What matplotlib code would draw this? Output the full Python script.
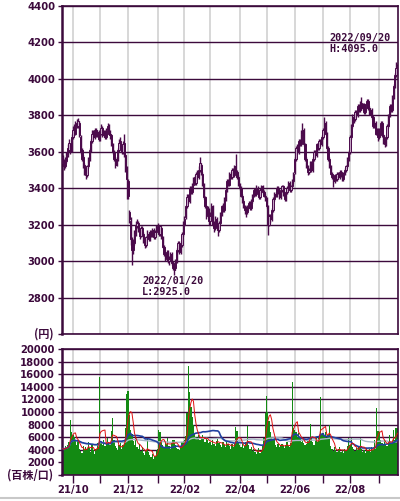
import numpy as np
import pandas as pd
import matplotlib
matplotlib.use('Agg')
import matplotlib.pyplot as plt
from matplotlib.lines import Line2D

dpi = 100
ink = '#3c0a3c'
candle_dn = '#4b0a4b'
candle_up = '#c4a4c4'

# daily OHLC (yen) by month, 2021/09/21 .. 2022/09/21
opens = [
    3570, 3550, 3520, 3550, 3580, 3610, 3640, 3610,
    3680, 3730, 3700, 3760, 3740, 3760, 3680, 3610, 3570, 3530, 3500, 3470, 3520, 3560, 3610, 3660, 3710, 3680, 3720, 3690, 3710,
    3670, 3700, 3730, 3690, 3710, 3680, 3720, 3740, 3700, 3690, 3640, 3600, 3560, 3530, 3560, 3610, 3660, 3630, 3600, 3650, 3580, 3510,
    3440, 3270, 3220, 3110, 3060, 3100, 3150, 3190, 3210, 3170, 3140, 3180, 3150, 3110, 3090, 3130, 3150, 3120, 3160, 3140, 3170, 3130, 3160,
    3190, 3180, 3150, 3180, 3130, 3080, 3040, 3010, 3050, 3000, 3010, 3040, 2990, 2970, 2960, 3000, 3060, 3100, 3050, 3090, 3150,
    3200, 3240, 3300, 3360, 3330, 3400, 3380, 3420, 3460, 3430, 3490, 3460, 3500, 3530, 3480, 3420, 3350, 3300, 3250, 3280,
    3220, 3250, 3300, 3200, 3180, 3230, 3190, 3170, 3210, 3260, 3300, 3280, 3340, 3390, 3440, 3420, 3480, 3460, 3500, 3470, 3520, 3490, 3460,
    3420, 3400, 3360, 3330, 3300, 3290, 3270, 3300, 3320, 3290, 3330, 3360, 3390, 3370, 3400, 3380, 3350, 3390, 3410, 3380, 3360,
    3340, 3300, 3200, 3250, 3230, 3280, 3340, 3370, 3360, 3400, 3380, 3350, 3390, 3410, 3370, 3340, 3380, 3400, 3430, 3390, 3410, 3440,
    3490, 3560, 3620, 3600, 3660, 3640, 3700, 3720, 3640, 3560, 3520, 3490, 3500, 3540, 3500, 3560, 3600, 3580, 3640, 3620, 3660, 3640,
    3680, 3720, 3760, 3700, 3620, 3560, 3520, 3480, 3460, 3440, 3470, 3450, 3480, 3460, 3490, 3470, 3450, 3480, 3500, 3520, 3560,
    3600, 3680, 3740, 3790, 3780, 3820, 3800, 3850, 3830, 3870, 3840, 3860, 3820, 3850, 3880, 3840, 3810, 3830, 3790, 3740, 3760, 3700, 3720,
    3680, 3720, 3760, 3690, 3660, 3640, 3680, 3740, 3800, 3850, 3830, 3900, 3960, 4020, 4070,
]
closes = [
    3540, 3520, 3560, 3580, 3620, 3650, 3600, 3680,
    3720, 3700, 3750, 3740, 3770, 3690, 3600, 3560, 3520, 3490, 3470, 3520, 3560, 3610, 3660, 3700, 3680, 3720, 3690, 3710, 3670,
    3700, 3730, 3690, 3710, 3680, 3720, 3740, 3700, 3690, 3640, 3600, 3560, 3530, 3560, 3610, 3650, 3630, 3600, 3640, 3580, 3500, 3450,
    3360, 3230, 3120, 3060, 3100, 3150, 3200, 3210, 3170, 3140, 3180, 3150, 3110, 3090, 3130, 3150, 3120, 3160, 3140, 3170, 3130, 3160, 3180,
    3180, 3150, 3190, 3130, 3080, 3040, 3020, 3050, 3000, 3010, 3040, 2990, 2960, 2950, 3000, 3060, 3100, 3050, 3090, 3150, 3200,
    3230, 3300, 3350, 3330, 3400, 3380, 3420, 3450, 3430, 3480, 3460, 3500, 3540, 3480, 3420, 3350, 3300, 3260, 3280, 3220,
    3250, 3300, 3200, 3180, 3230, 3190, 3170, 3210, 3260, 3300, 3280, 3340, 3390, 3440, 3420, 3480, 3460, 3500, 3470, 3520, 3490, 3460, 3420,
    3400, 3360, 3330, 3300, 3280, 3270, 3300, 3320, 3290, 3330, 3360, 3390, 3370, 3400, 3380, 3350, 3390, 3410, 3380, 3360, 3340,
    3300, 3200, 3250, 3230, 3280, 3340, 3370, 3360, 3400, 3380, 3350, 3390, 3410, 3370, 3340, 3380, 3400, 3430, 3390, 3410, 3440, 3480,
    3560, 3620, 3600, 3660, 3640, 3700, 3720, 3640, 3560, 3520, 3490, 3500, 3540, 3500, 3560, 3600, 3580, 3640, 3620, 3660, 3640, 3680,
    3720, 3760, 3700, 3620, 3560, 3520, 3480, 3460, 3440, 3470, 3450, 3480, 3460, 3490, 3470, 3450, 3480, 3500, 3520, 3560, 3600,
    3680, 3740, 3790, 3780, 3820, 3800, 3850, 3830, 3870, 3840, 3860, 3820, 3850, 3880, 3840, 3810, 3830, 3790, 3740, 3760, 3700, 3720, 3680,
    3720, 3760, 3690, 3660, 3640, 3680, 3740, 3800, 3850, 3830, 3900, 3960, 4020, 4060, 4040,
]
highs = [
    3580, 3560, 3570, 3600, 3640, 3670, 3650, 3700,
    3740, 3750, 3770, 3780, 3785, 3770, 3690, 3620, 3580, 3540, 3510, 3530, 3570, 3620, 3670, 3720, 3720, 3730, 3730, 3720, 3720,
    3710, 3750, 3740, 3720, 3720, 3730, 3760, 3750, 3720, 3700, 3650, 3610, 3570, 3570, 3620, 3670, 3680, 3640, 3660, 3700, 3590, 3520,
    3450, 3280, 3240, 3130, 3120, 3170, 3220, 3230, 3220, 3180, 3190, 3190, 3160, 3120, 3140, 3170, 3160, 3170, 3170, 3180, 3180, 3170, 3200,
    3210, 3200, 3200, 3190, 3140, 3090, 3050, 3060, 3060, 3030, 3050, 3050, 3000, 2980, 3010, 3070, 3110, 3110, 3100, 3160, 3220,
    3250, 3310, 3370, 3370, 3410, 3410, 3430, 3460, 3470, 3490, 3500, 3520, 3570, 3540, 3490, 3430, 3360, 3310, 3300, 3290,
    3270, 3320, 3310, 3220, 3250, 3240, 3200, 3220, 3270, 3310, 3320, 3350, 3400, 3450, 3450, 3490, 3490, 3510, 3510, 3530, 3590, 3500, 3470,
    3430, 3410, 3370, 3340, 3310, 3300, 3310, 3330, 3330, 3340, 3370, 3400, 3400, 3420, 3410, 3390, 3400, 3420, 3420, 3390, 3370,
    3350, 3310, 3260, 3260, 3290, 3350, 3380, 3380, 3410, 3410, 3390, 3400, 3420, 3420, 3380, 3390, 3410, 3440, 3440, 3420, 3450, 3490,
    3570, 3630, 3640, 3670, 3670, 3720, 3760, 3730, 3650, 3570, 3530, 3510, 3550, 3550, 3570, 3610, 3610, 3650, 3650, 3670, 3670, 3690,
    3730, 3790, 3770, 3710, 3630, 3570, 3530, 3490, 3470, 3480, 3480, 3490, 3490, 3500, 3500, 3480, 3490, 3510, 3530, 3570, 3610,
    3690, 3750, 3810, 3810, 3830, 3830, 3860, 3860, 3880, 3900, 3870, 3870, 3860, 3890, 3890, 3850, 3840, 3840, 3800, 3770, 3770, 3730, 3730,
    3730, 3770, 3770, 3700, 3670, 3690, 3750, 3810, 3860, 3860, 3910, 3970, 4030, 4095, 4080,
]
lows = [
    3520, 3500, 3510, 3540, 3570, 3600, 3590, 3600,
    3670, 3690, 3690, 3730, 3730, 3680, 3590, 3550, 3510, 3470, 3450, 3460, 3510, 3550, 3600, 3650, 3670, 3670, 3680, 3680, 3660,
    3660, 3690, 3680, 3680, 3670, 3670, 3710, 3690, 3670, 3630, 3590, 3550, 3510, 3520, 3550, 3600, 3620, 3590, 3590, 3570, 3490, 3340,
    3340, 3210, 3090, 2980, 3040, 3090, 3140, 3180, 3160, 3120, 3130, 3140, 3100, 3070, 3080, 3120, 3110, 3110, 3130, 3130, 3120, 3120, 3150,
    3160, 3140, 3140, 3120, 3070, 3030, 3000, 3000, 2990, 2980, 3000, 2980, 2950, 2925, 2950, 2990, 3050, 3040, 3040, 3080, 3140,
    3190, 3230, 3290, 3320, 3320, 3370, 3370, 3410, 3420, 3420, 3450, 3450, 3490, 3470, 3410, 3340, 3290, 3230, 3240, 3200,
    3200, 3240, 3190, 3160, 3170, 3180, 3140, 3160, 3200, 3250, 3270, 3270, 3330, 3380, 3410, 3410, 3450, 3450, 3460, 3460, 3480, 3450, 3410,
    3390, 3350, 3320, 3290, 3260, 3240, 3260, 3290, 3280, 3280, 3320, 3350, 3360, 3360, 3370, 3340, 3340, 3380, 3370, 3350, 3330,
    3290, 3145, 3190, 3210, 3220, 3270, 3330, 3350, 3350, 3370, 3340, 3340, 3380, 3360, 3330, 3330, 3370, 3390, 3380, 3380, 3400, 3430,
    3480, 3550, 3590, 3590, 3630, 3630, 3690, 3630, 3550, 3510, 3470, 3480, 3490, 3490, 3490, 3550, 3570, 3570, 3610, 3610, 3630, 3630,
    3670, 3710, 3690, 3610, 3550, 3510, 3470, 3450, 3405, 3430, 3440, 3440, 3450, 3450, 3460, 3440, 3440, 3470, 3490, 3510, 3550,
    3590, 3670, 3730, 3760, 3770, 3790, 3790, 3820, 3820, 3830, 3830, 3810, 3810, 3840, 3830, 3800, 3800, 3780, 3730, 3730, 3690, 3690, 3660,
    3670, 3710, 3680, 3640, 3625, 3630, 3670, 3730, 3790, 3820, 3820, 3890, 3950, 4010, 4020,
]
# daily volume (x100 shares)
volumes = [
    4200, 3900, 4600, 4300, 4800, 5200, 8800, 6800,
    6300, 6100, 5400, 4800, 5600, 4200, 3800, 3500, 4600, 3900, 4400, 4100, 5300, 4300, 3600, 4700, 3900, 3400, 4200, 5100, 4400,
    15600, 5200, 4800, 5500, 4600, 4900, 5800, 5100, 4700, 7000, 9100, 5600, 4600, 4300, 3900, 4800, 5200, 4100, 4700, 5600, 7400, 12800,
    13400, 9500, 7200, 6500, 5400, 4800, 5900, 4500, 4200, 5000, 3800, 4400, 3500, 3200, 3900, 5900, 3600, 3100, 2800, 3300, 2500, 3000, 3800,
    4200, 7100, 6800, 5200, 4700, 4300, 5100, 4900, 5800, 4600, 4200, 5300, 5600, 5500, 4800, 4300, 4100, 3900, 4600, 5200, 5400,
    5600, 6200, 9800, 17300, 13200, 10800, 9200, 8000, 6500, 6100, 5800, 6300, 5500, 5700, 6400, 5900, 5200, 6000, 5500, 5100,
    5300, 4800, 5600, 5000, 4600, 5400, 5900, 5100, 4700, 4400, 5200, 4800, 4500, 5300, 4900, 4600, 4200, 4900, 4500, 5000, 7600, 7000, 5300,
    4800, 4500, 4900, 4300, 4600, 5200, 7700, 4700, 4200, 4500, 3800, 4100, 3600, 3300, 3900, 4300, 3500, 3800, 4600, 5800, 9900,
    12600, 10000, 8500, 6800, 6000, 5500, 5800, 4700, 4500, 4900, 4400, 4700, 5000, 4600, 4300, 4800, 5200, 4600, 4400, 5100, 14800, 7500,
    7200, 6800, 6000, 6600, 5800, 5200, 5600, 5100, 4700, 5000, 5400, 5600, 8100, 6000, 5200, 4800, 5500, 5900, 5300, 6100, 12400, 6500,
    6600, 6200, 6800, 5900, 6400, 8000, 4600, 4200, 3800, 4400, 3900, 3600, 4100, 4500, 3700, 4000, 3500, 4200, 3800, 4600, 5800,
    4700, 5800, 4400, 4100, 3800, 4300, 3900, 4500, 5800, 4200, 3700, 4000, 3500, 4300, 3800, 4100, 3600, 4400, 3900, 5500, 4200, 10700, 7000,
    6800, 5500, 5100, 4800, 5600, 5000, 4600, 5200, 6300, 4900, 5400, 7200, 5600, 7500, 7400,
]

dates = pd.bdate_range('2021-09-21', '2022-09-21')
n = len(dates)
assert n == len(opens) == len(closes) == len(highs) == len(lows) == len(volumes)

o = np.array(opens)
c = np.array(closes)
h = np.array(highs)
l = np.array(lows)
v = np.array(volumes)
xx = np.arange(n)

# first trading day of each month
mstart = [i for i in range(1, n) if dates[i].month != dates[i - 1].month]

plt.rcParams['font.family'] = ['DejaVu Sans']
fig = plt.figure(figsize=(400 / dpi, 501 / dpi), dpi=dpi)
ax1 = fig.add_axes([62 / 400, 1 - 334 / 501, 336 / 400, 328 / 501])
ax2 = fig.add_axes([62 / 400, 1 - 475 / 501, 336 / 400, 126 / 501])

for ax in (ax1, ax2):
    ax.set_xlim(-0.5, n - 0.5)
    ax.set_axisbelow(True)
    for m in mstart:
        ax.axvline(m, color='#d4d4d4', lw=1.3, zorder=0)
    ax.grid(axis='y', color=ink, lw=1.0, zorder=0.5)
    for s in ax.spines.values():
        s.set_color(ink)
        s.set_linewidth(1.2)
    ax.spines['left'].set_linewidth(1.8)
    ax.tick_params(axis='y', length=3, width=1, color=ink, labelcolor=ink, labelsize=7.2, pad=2)

''' price candles '''
up = c >= o
ax1.vlines(xx, l, h, color=candle_dn, lw=1.0, zorder=2)
ax1.bar(xx[up], (c - o)[up], bottom=o[up], width=1.0, color=candle_up,
        edgecolor=candle_dn, lw=0.7, zorder=3)
ax1.bar(xx[~up], (o - c)[~up], bottom=c[~up], width=1.0, color=candle_dn,
        edgecolor=candle_dn, lw=0.7, zorder=3)
ax1.set_ylim(2600, 4400)
ax1.set_yticks(np.arange(2600, 4401, 200))
ax1.set_yticklabels([''] + [str(t) for t in range(2800, 4401, 200)], fontweight='bold')
ax1.set_xticks([])

ih = int(np.argmax(h))
il = int(np.argmin(l))
mono = dict(family='DejaVu Sans Mono', fontweight='bold', fontsize=7.3, color=ink, linespacing=1.05)
ax1.text(ih - 52, h[ih] + 100, dates[ih].strftime('%Y/%m/%d') + '\nH:%.1f' % h[ih], ha='left', va='center', **mono)
ax1.text(il - 25, l[il] - 8, dates[il].strftime('%Y/%m/%d') + '\nL:%.1f' % l[il], ha='left', va='top', **mono)

cjk = ['Noto Sans CJK JP', 'DejaVu Sans']
ax1.text(-0.025, 0, '(円)', transform=ax1.transAxes, ha='right', va='center',
         family=cjk, fontweight='bold', fontsize=8, color=ink)

''' volume '''
vs = pd.Series(v)
ax2.bar(xx, v, width=1.0, color='#138a13', lw=0, zorder=1)
ax2.plot(xx, vs.rolling(75, min_periods=1).mean(), color='#a8b8c8', lw=1.0, zorder=2)
ax2.plot(xx, vs.rolling(25, min_periods=1).mean(), color='#2040a0', lw=1.2, zorder=3)
ax2.plot(xx, vs.rolling(5, min_periods=1).mean(), color='#e01010', lw=0.7, zorder=4)
ax2.set_ylim(0, 20000)
ax2.set_yticks(np.arange(0, 20001, 2000))
ax2.set_yticklabels([''] + [str(t) for t in range(2000, 20001, 2000)], fontweight='bold')
ax2.text(-0.025, 0, '(百株/口)', transform=ax2.transAxes, ha='right', va='center',
         family=cjk, fontweight='bold', fontsize=8, color=ink)

ax2.set_xticks(mstart)
ax2.set_xticklabels([dates[m].strftime('%y/%m') if dates[m].month % 2 == 0 else '' for m in mstart],
                    fontweight='bold')
ax2.tick_params(axis='x', length=6, width=1, color=ink, labelcolor=ink, labelsize=7.2, pad=1)

fig.add_artist(Line2D([0, 1], [3.5 / 501, 3.5 / 501], color='#c8c8c8', lw=1.5))

fig.savefig('out.png', dpi=dpi)
